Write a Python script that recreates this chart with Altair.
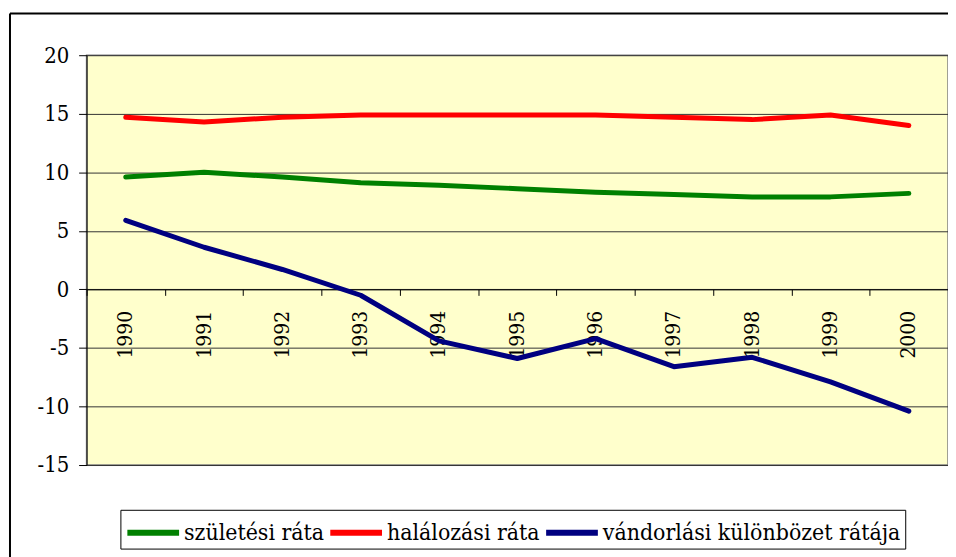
import altair as alt
import pandas as pd

years = ["1990", "1991", "1992", "1993", "1994", "1995", "1996", "1997", "1998", "1999", "2000"]
szuletesi = [9.6, 10.0, 9.6, 9.1, 8.9, 8.6, 8.3, 8.1, 7.9, 7.9, 8.2]
halalozasi = [14.7, 14.3, 14.7, 14.9, 14.9, 14.9, 14.9, 14.7, 14.5, 14.9, 14.0]
vandorlasi = [5.9, 3.6, 1.7, -0.5, -4.4, -5.9, -4.2, -6.6, -5.8, -7.9, -10.4]
series_names = ["születési ráta", "halálozási ráta", "vándorlási különbözet rátája"]
series_colors = ["#008000", "#FF0000", "#000080"]
y_ticks = [-15, -10, -5, 0, 5, 10, 15, 20]

rows = []
for name, vals in zip(series_names, [szuletesi, halalozasi, vandorlasi]):
    for yr, v in zip(years, vals):
        rows.append({"year": yr, "value": v, "series": name})
df = pd.DataFrame(rows)

W, H = 866, 412
zero_offset = -(H - H * 20 / 35)
FONT = "DejaVu Serif Condensed"

lines = alt.Chart(df).mark_line(strokeWidth=5, strokeCap="round", strokeJoin="round").encode(
    x=alt.X("year:N", sort=years,
            scale=alt.Scale(type="band", paddingInner=0, paddingOuter=0),
            axis=alt.Axis(title=None, orient="bottom", offset=zero_offset, domain=True,
                          domainColor="#000000", domainWidth=1, ticks=True, tickColor="#000000",
                          tickSize=6, tickBand="extent", labelAngle=270, labelAlign="right",
                          labelBaseline="middle", labelPadding=15,
                          labelFontSize=21, labelColor="#000000", grid=False)),
    y=alt.Y("value:Q", scale=alt.Scale(domain=[-15, 20], nice=False, zero=False),
            axis=alt.Axis(title=None, values=y_ticks, domainColor="#000000", domainWidth=1,
                          tickColor="#000000", tickSize=8, labelFontSize=22,
                          labelColor="#000000", labelPadding=10, grid=True,
                          labelExpr="'' + datum.value",
                          gridColor="#333333", gridWidth=1)),
    color=alt.Color("series:N", scale=alt.Scale(domain=series_names, range=series_colors),
                    legend=alt.Legend(title=None, orient="none", legendX=34, legendY=457,
                                      direction="horizontal", symbolType="M-1.625,0H1.625",
                                      symbolStrokeWidth=6, symbolSize=1024, symbolOffset=10,
                                      labelFontSize=23, labelColor="#000000",
                                      labelLimit=500, labelOffset=12, columnPadding=-6,
                                      strokeColor="#000000", padding=4, fillColor="#FFFFFF")),
)

frame_data = alt.Data(values=[{"k": 1}])
frame_left = alt.Chart(frame_data).mark_rule(color="#000000", strokeWidth=2).encode(
    x=alt.value(-77), y=alt.value(-42), y2=alt.value(H + 120))
frame_top = alt.Chart(frame_data).mark_rule(color="#000000", strokeWidth=2).encode(
    x=alt.value(-77), x2=alt.value(W + 20), y=alt.value(-42))

chart = alt.layer(lines, frame_left, frame_top).properties(
    width=W, height=H,
    autosize=alt.AutoSizeParams(type="none"),
    padding={"left": 79, "top": 46, "right": 0, "bottom": 91},
    background="#FFFFFF",
).configure(font=FONT).configure_axis(labelFont=FONT).configure_legend(
    labelFont=FONT
).configure_view(fill="#FFFFCC", stroke="#808080", strokeWidth=1.5)

chart.save("out.html", embed_options={"renderer": "svg", "actions": False})
